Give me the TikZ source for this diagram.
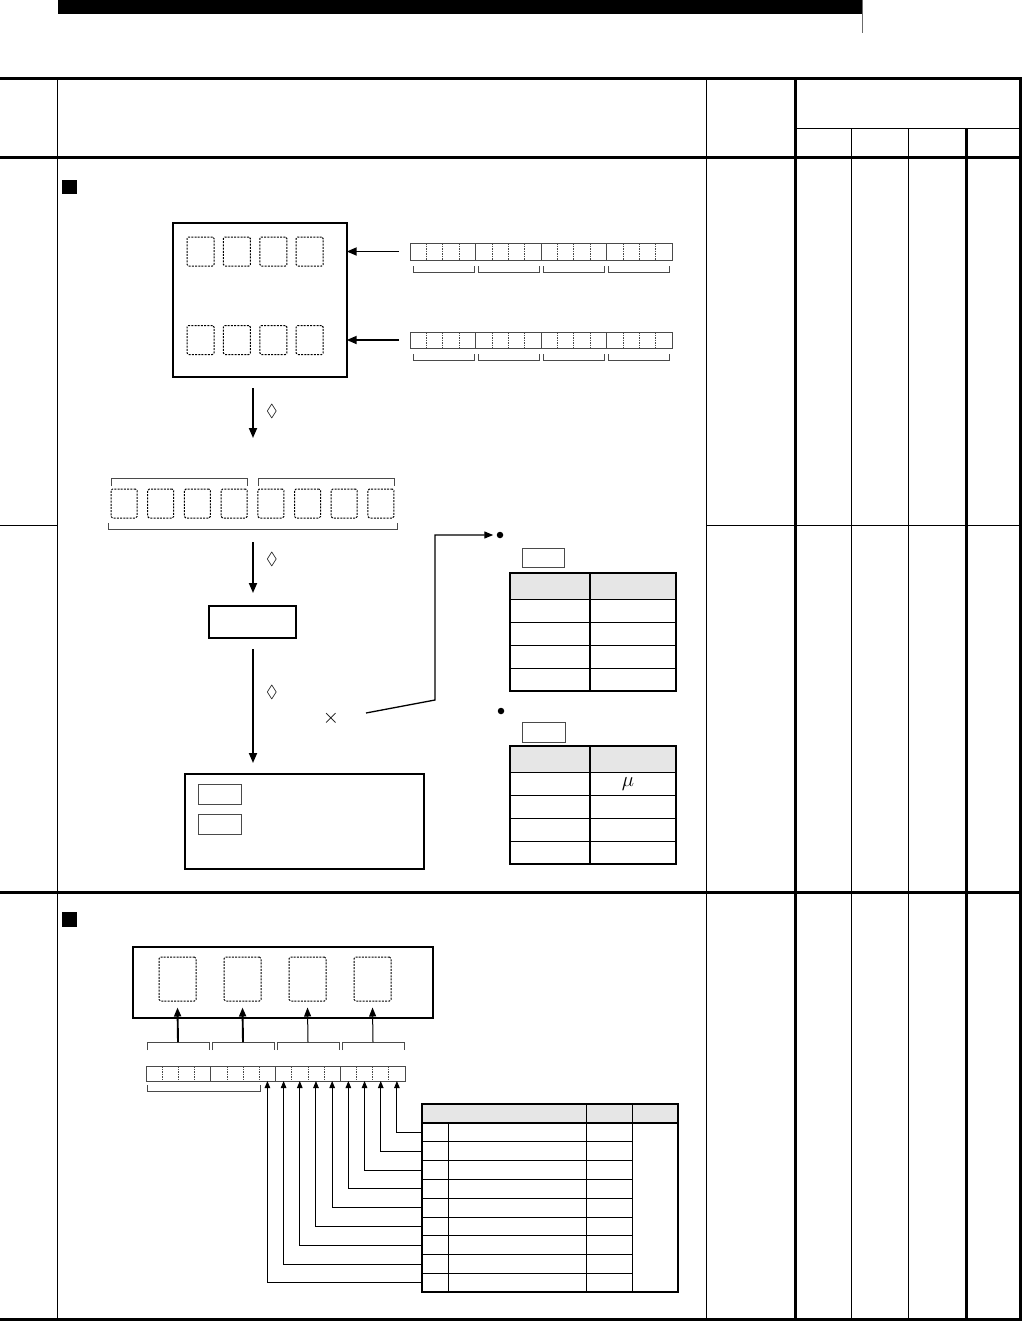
\documentclass[tikz,border=0pt]{standalone}
\usepackage{amssymb}
\usetikzlibrary{arrows.meta, positioning, calc, fit}
\definecolor{cgrey}{HTML}{6B6B6B}
\definecolor{chead}{HTML}{E6E6E6}
\definecolor{cline}{HTML}{4A4A4A}
\tikzset{
  every picture/.style={x=1pt, y=-1pt, line width=1pt},
  rule/.style={line width=3pt},
  hair/.style={line width=1pt},
  panel/.style={draw, line width=2.2pt, inner sep=0pt, outer sep=0pt},
  slot/.style={draw, dash pattern=on 2pt off 1.2pt, line width=1pt, rounded corners=1.5pt, inner sep=0pt},
  strip/.style={draw=cline, line width=0.9pt, inner sep=0pt, outer sep=0pt},
  bitdash/.style={draw=cline, line width=0.7pt, dash pattern=on 1.5pt off 1pt},
  brk/.style={draw=cline, line width=0.8pt},
  tagbox/.style={draw=cline, line width=0.9pt, inner sep=0pt, outer sep=0pt},
  tbl/.style={draw, line width=1.8pt, inner sep=0pt, outer sep=0pt},
  arrow/.style={-{Triangle[length=10pt, width=8pt]}, line width=1.8pt},
  barrow/.style={-{Triangle[length=7pt, width=5.5pt]}, line width=1pt},
  sym/.style={inner sep=0pt},
  bullet/.style={circle, fill, inner sep=0pt, minimum size=6.5pt},
}
% 16-bit word, groups of four
\newcommand{\bitrow}[5]{%
  \node[strip, fit={(#2,#3) (#4,#5)}] (#1) {};
  \foreach \k in {1,2,3,5,6,7,9,10,11,13,14,15}
    \draw[bitdash] ($(#1.north west)!\k/16!(#1.north east)$) -- ($(#1.south west)!\k/16!(#1.south east)$);
  \foreach \k in {4,8,12}
    \draw[strip] ($(#1.north west)!\k/16!(#1.north east)$) -- ($(#1.south west)!\k/16!(#1.south east)$);
}
\newcommand{\brkup}[3]{\draw[brk] (#1,#3-6) -- (#1,#3) -- (#2,#3) -- (#2,#3-6);}
\newcommand{\brkdown}[3]{\draw[brk] (#1,#3+8) -- (#1,#3) -- (#2,#3) -- (#2,#3+8);}
% two-column table, header + 4 rows
\newcommand{\valtable}[2]{%
  \fill[chead] (510,#2) rectangle (676,#2+26);
  \foreach \r in {26,49,72,95}
    \draw[hair] (510,#2+\r) -- (676,#2+\r);
  \draw[line width=1.6pt] (590,#2) -- (590,#2+118);
  \node[tbl, fit={(510,#2) (676,#2+118)}] (#1) {};
}

\begin{document}
\begin{tikzpicture}
  \useasboundingbox (0,0) rectangle (1023,1322);
  % running head
  \fill (58,0) rectangle (862,14);
  \draw[cgrey, line width=0.5pt] (862,0) -- (862,33);
  % table frame
  \draw[rule] (0,78) -- (1020,78) -- (1020,1319) -- (0,1319);
  \draw[rule] (0,157) -- (1020,157);
  \draw[rule] (0,892) -- (1020,892);
  \draw[rule] (795,78) -- (795,1319);
  \draw[rule] (966,128) -- (966,1319);
  \foreach \x in {57,706} \draw[hair] (\x,78) -- (\x,1319);
  \foreach \x in {851,908} \draw[hair] (\x,128) -- (\x,1319);
  \draw[hair] (795,128) -- (1020,128);
  \draw[hair] (0,525) -- (57,525);
  \draw[hair] (706,525) -- (1020,525);
  \fill (62,180) rectangle (77,194);
  \fill (62,912) rectangle (77,927);

  % device with two word registers
  \node[panel, fit={(173,223) (347,377)}] (dev) {};
  \foreach \i in {0,...,3} {
    \node[slot, minimum width=27pt, minimum height=29pt] (hi\i) at (200.5+36.4*\i,251.5) {};
    \node[slot, minimum width=27pt, minimum height=29pt] (lo\i) at (200.5+36.4*\i,340) {};
  }
  \bitrow{wa}{410}{243}{672}{260}
  \bitrow{wb}{410}{332}{672}{348}
  \foreach \a in {413,478,543,608} {
    \brkup{\a}{\a+61}{272}
    \brkup{\a}{\a+61}{360}
  }
  \draw[arrow] ([xshift=-11pt]wa.west) -- ([xshift=23pt]hi3.east);
  \draw[arrow] ([xshift=-11pt]wb.west) -- ([xshift=23pt]lo3.east);

  \coordinate (c1a) at (253,388);
  \coordinate (c1b) at (253,438);
  \draw[arrow] (c1a) -- (c1b);
  \node[sym, font=\LARGE] (k1) at (272,411) {$\lozenge$};

  % eight digits
  \foreach \i in {0,...,7}
    \node[slot, minimum width=26pt, minimum height=29pt] (d\i) at (124+36.7*\i,503.5) {};
  \brkdown{111}{247}{478}
  \brkdown{258}{394}{478}
  \brkup{108}{397}{529}

  \coordinate (c2a) at (253,542);
  \node[panel, fit={(209,606) (296,638)}] (conv) {};
  \draw[arrow] (c2a) -- ([yshift=13pt]conv.north -| c2a);
  \node[sym, font=\LARGE] (k2) at (272,559) {$\lozenge$};

  % result
  \node[panel, fit={(185,774) (424,869)}] (res) {};
  \node[tagbox, fit={(198,784) (241,804)}] (t1) {};
  \node[tagbox, fit={(198,814) (241,834)}] (t2) {};
  \coordinate (c3a) at (253,649);
  \draw[arrow] (c3a) -- ([yshift=11pt]res.north -| c3a);
  \node[sym, font=\LARGE] (k3) at (272,692) {$\lozenge$};
  \node[sym, font=\huge] (mul) at (331,718) {$\times$};

  % unit tables
  \node[bullet] (dot1) at (500,535) {};
  \node[bullet] (dot2) at (501,711) {};
  \node[tagbox, fit={(522,548) (564,567)}] (u1) {};
  \node[tagbox, fit={(522,722) (565,742)}] (u2) {};
  \valtable{tabA}{573}
  \valtable{tabB}{746}
  \node[sym, font=\huge] (mu) at (628,784) {$\mu$};
  \coordinate (m1) at (366,713);
  \draw[-{Triangle[length=9pt, width=7pt]}, line width=1.3pt, shorten >=3pt] (m1) -- (435,700) |- (dot1);

  % second block
  \node[panel, fit={(133,947) (433,1018)}] (disp) {};
  \foreach \i/\w in {0/1.9,1/1.9,2/1,3/1} {
    \node[slot, minimum width=37pt, minimum height=44pt] (s\i) at (177.5+65*\i,979) {};
    \brkdown{147+65*\i}{209+65*\i}{1042}
    \coordinate (g\i) at (178+65*\i,1042);
    \draw[-{Triangle[length=9pt, width=7pt]}, line width=\w pt] (g\i) -- ([yshift=-6pt]s\i.south);
  }
  \bitrow{wc}{146}{1066}{405}{1081}
  \brkup{147}{260}{1091}

  % bit table
  \fill[chead] (422,1104) rectangle (678,1123);
  \foreach \r in {1,...,8}
    \draw[line width=0.9pt] (422,1123+18.8*\r) -- (632,1123+18.8*\r);
  \draw[line width=0.9pt] (448,1123) -- (448,1292);
  \draw[line width=0.9pt] (586,1104) -- (586,1292);
  \draw[line width=0.9pt] (632,1104) -- (632,1292);
  \draw[line width=1.3pt] (422,1123) -- (678,1123);
  \node[tbl, line width=1.3pt, fit={(422,1104) (678,1292)}] (bits) {};
  \foreach \i in {1,...,9} {
    \coordinate (r\i) at (422,1113.6+18.8*\i);
    \coordinate (b\i) at ($(wc.south east)!{(\i-0.5)/16}!(wc.south west)$);
    \draw[barrow] (r\i) -| (b\i);
  }
\end{tikzpicture}
\end{document}
